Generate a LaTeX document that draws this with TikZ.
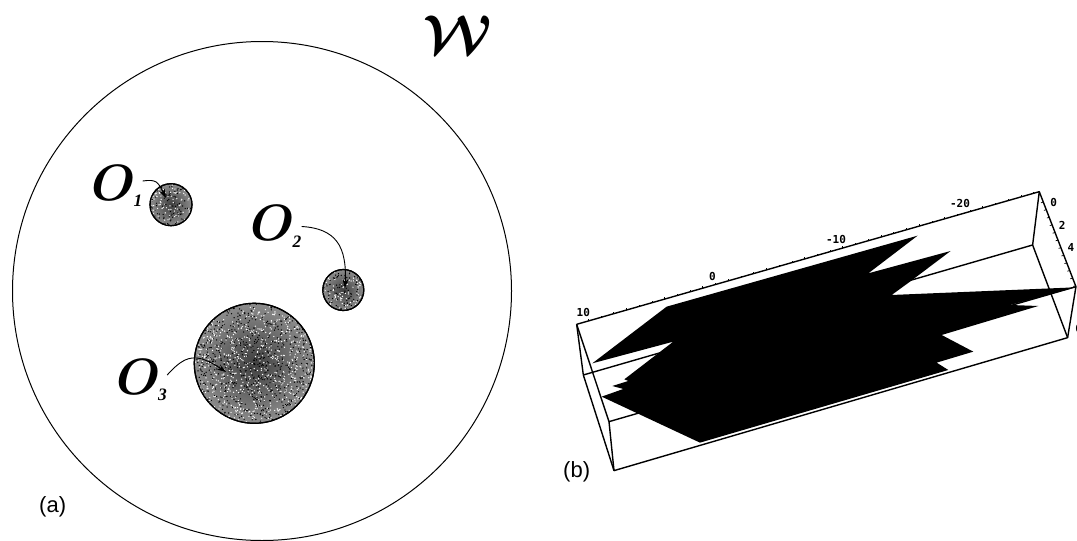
\documentclass[tikz,border=0pt]{standalone}
\usepackage{fontspec}
\usepackage{amsmath,amssymb}
\setsansfont{Liberation Sans}
\newfontfamily\tickfont{DejaVu Sans Mono}
\newfontfamily\subfont{Liberation Serif}
\usetikzlibrary{positioning,arrows.meta,calc}
\tikzset{
  blob/.style={circle, draw=black, inner color=black!75, outer color=black!45, line width=1.2pt, inner sep=0pt},
  objlabel/.style={inner sep=0pt, scale=2.05},
  panel/.style={inner sep=0pt, font=\fontsize{22}{22}\selectfont\sffamily},
  tick label/.style={inner sep=0pt, font=\fontsize{11}{11}\selectfont\tickfont\bfseries},
  pointer/.style={-{Stealth[length=9pt,width=6pt]}, line width=0.9pt},
  boxedge/.style={line width=1.4pt, line join=round},
}
\newcommand{\objname}[1]{{\Huge$\boldsymbol{O}$}\kern-1.2pt\raisebox{-3.2pt}{\fontsize{8.5}{9}\selectfont\subfont\bfseries\itshape #1}}
\newcommand{\speckle}[3]{%
  \begin{scope}
    \clip (#1) circle (#2);
    \foreach \k in {1,...,#3} {
      \pgfmathsetmacro{\dotx}{rand*#2}
      \pgfmathsetmacro{\doty}{rand*#2}
      \fill[white] ($(#1)+(\dotx,\doty)$) circle (0.7);
      \pgfmathsetmacro{\dotx}{rand*#2}
      \pgfmathsetmacro{\doty}{rand*#2}
      \fill[black] ($(#1)+(\dotx,\doty)$) circle (0.7);
    }
  \end{scope}
  \draw[line width=1.2pt] (#1) circle (#2);
}

\begin{document}
\begin{tikzpicture}[x=1pt,y=-1pt]
  \useasboundingbox (0,0) rectangle (1077,541);
  \pgfmathsetseed{42}

  % panel a
  \draw[line width=1pt] (262,291) circle (249.5);
  \node[inner sep=0pt, font=\Huge, scale=2.2] (world) at (458,35) {$\boldsymbol{\mathcal{W}}$};

  \node[blob, minimum size=42] (blobA) at (171,204.7) {};
  \node[blob, minimum size=41] (blobB) at (343.3,290) {};
  \node[blob, minimum size=120] (blobC) at (254.3,363.3) {};
  \speckle{blobA}{21}{100}
  \speckle{blobB}{20.5}{100}
  \speckle{blobC}{60}{900}

  \node[objlabel] (labelA) at (117,186) {\objname{1}};
  \node[objlabel] (labelB) at (276,226.5) {\objname{2}};
  \node[objlabel] (labelC) at (141.5,380) {\objname{3}};
  \coordinate (tipA) at (166,198);
  \coordinate (tipB) at (345,288);
  \coordinate (tipC) at (226,372);
  \draw[pointer] (labelA.east) ++(0,-5) .. controls +(14,-2) and +(-8,-16) .. (tipA);
  \draw[pointer] (labelB.east) .. controls +(34,2) and +(2,-42) .. (tipB);
  \draw[pointer] (labelC.east) ++(0,-5) .. controls +(18,-20) and +(-30,-20) .. (tipC);

  \node[panel, anchor=west] (panelA) at (39,507) {(a)};

  % panel b, read off at three times the size
  \begin{scope}[shift={(560,170)},x=0.3333pt,y=-0.3333pt]
    \coordinate (topA) at (50,463);
    \coordinate (topB) at (1438,65);
    \coordinate (topC) at (1548,350);
    \coordinate (topD) at (147,755);
    \coordinate (lowA) at (70,615);
    \coordinate (lowB) at (1418,225);
    \coordinate (lowC) at (1523,503);
    \coordinate (lowD) at (162,902);

    \draw[boxedge] (lowA) -- (lowB) -- (lowC);
    \draw[boxedge] (lowB) -- (topB);
    \draw[boxedge] (topD) -- (topC);
    \fill[black] (320,410) -- (1073,197) -- (925,310) -- (1172,243) -- (1050,335)
      -- (995,375) -- (1548,352) -- (1350,405) -- (1435,408) -- (1145,495)
      -- (1240,545) -- (1130,578) -- (1165,600) -- (420,818) -- (125,680)
      -- (190,657) -- (157,648) -- (205,633) -- (193,628) -- (340,515)
      -- (97,580) -- cycle;
    \draw[boxedge] (topA) -- (topB) -- (topC) -- (lowC) -- (lowD) -- (lowA) -- (topA);
    \draw[boxedge] (topA) -- (topD) -- (lowD);

    % ticks
    \foreach \t in {0.025,0.0525,...,1.0} {
      \draw[line width=0.7pt] ($(topA)!\t!(topB)$) -- ++(0,-5);
    }
    \foreach \t in {0.03,0.11,...,1.0} {
      \draw[line width=0.7pt] ($(topB)!\t!(topC)$) -- ++(-7,2);
    }

    \node[tick label] (tickTen) at (70,428) {10};
    \node[tick label] (tickZero) at (457,320) {0};
    \node[tick label] (tickMinusTen) at (828,210) {-10};
    \node[tick label] (tickMinusTwenty) at (1200,100) {-20};
    \node[tick label] (depthZero) at (1481,97) {0};
    \node[tick label] (depthTwo) at (1507,165) {2};
    \node[tick label] (depthFour) at (1533,232) {4};
    \begin{scope}
      \clip (1500,400) rectangle (1551,560);
      \node[tick label] (depthSix) at (1556,475) {6};
    \end{scope}
  \end{scope}

  \node[panel, anchor=west] (panelB) at (563,472) {(b)};
\end{tikzpicture}
\end{document}
